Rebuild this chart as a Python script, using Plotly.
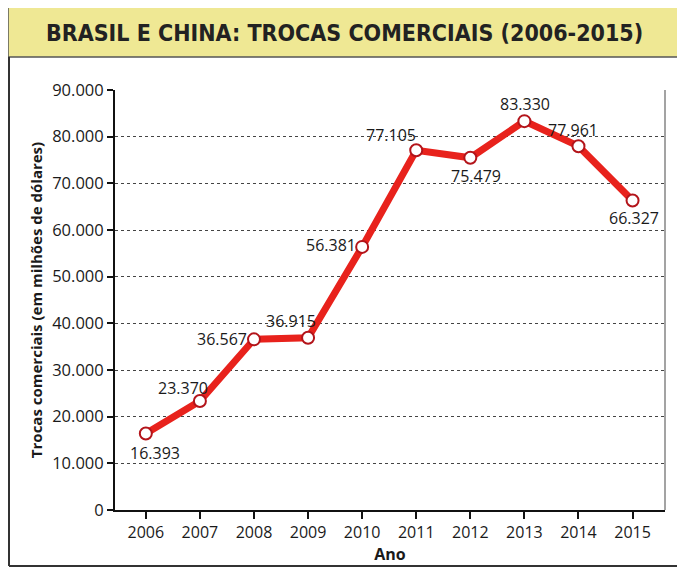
import plotly.graph_objects as go

anos = [2006, 2007, 2008, 2009, 2010, 2011, 2012, 2013, 2014, 2015]
trocas = [16393, 23370, 36567, 36915, 56381, 77105, 75479, 83330, 77961, 66327]
rotulos = ["16.393", "23.370", "36.567", "36.915", "56.381", "77.105", "75.479", "83.330", "77.961", "66.327"]
y_ticks = [0, 10000, 20000, 30000, 40000, 50000, 60000, 70000, 80000, 90000]

# label offsets (pixels) relative to each point
offsets = [(9, -19), (-17, 13), (-32, 0), (-17, 17), (-31, 2), (-25, 15), (6, -18), (1, 17), (-5, 16), (1, -18)]

fig = go.Figure()
fig.add_trace(go.Scatter(
    x=anos, y=trocas, mode="lines+markers",
    line=dict(color="#e8221c", width=7),
    marker=dict(size=12, color="white", line=dict(color="#b3141a", width=2)),
    hoverinfo="skip", showlegend=False,
))

for a, v, t, (dx, dy) in zip(anos, trocas, rotulos, offsets):
    fig.add_annotation(x=a, y=v, text=t, showarrow=False, xshift=dx, yshift=dy,
                       font=dict(family="Open Sans", size=16, color="#1a1a1a"))

def px(x):
    return (x - 115) / 550

def py(y):
    return (510 - y) / 420

# title band
fig.add_shape(type="rect", xref="paper", yref="paper", x0=px(8), x1=px(690), y0=py(57), y1=py(5),
              fillcolor="#efe894", line=dict(color="#555", width=1.5), layer="below")
# outer frame
fig.add_shape(type="line", xref="paper", yref="paper", x0=px(9), x1=px(9), y0=py(57), y1=py(566),
              line=dict(color="#333", width=2))
fig.add_shape(type="line", xref="paper", yref="paper", x0=px(9), x1=px(690), y0=py(566), y1=py(566),
              line=dict(color="#333", width=2))
# right border of plot area
fig.add_shape(type="line", xref="paper", yref="paper", x0=1, x1=1, y0=0, y1=1,
              line=dict(color="#666", width=1.2))

fig.add_annotation(xref="paper", yref="paper", x=px(344), y=py(33), xanchor="center", yanchor="middle",
                   text="<b>BRASIL E CHINA: TROCAS COMERCIAIS (2006-2015)</b>",
                   showarrow=False, font=dict(family="DejaVu Sans Condensed", size=23, color="#222"))

fig.update_layout(
    width=677, height=569,
    margin=dict(l=107, r=20, t=82, b=67),
    paper_bgcolor="white", plot_bgcolor="white",
    separators=",.",
    font=dict(family="Open Sans", color="#1a1a1a"),
)
fig.update_xaxes(
    range=[2005.43, 2015.6], tickvals=anos, ticktext=[str(a) for a in anos],
    showline=True, linecolor="#111", linewidth=2, ticks="outside", ticklen=7, tickwidth=2, tickcolor="#111",
    showgrid=False, zeroline=False, tickfont=dict(size=16),
    title=dict(text="<b>Ano</b>", font=dict(size=16), standoff=0),
)
fig.update_yaxes(
    range=[0, 90000], tickvals=y_ticks, tickformat=",d",
    showline=True, linecolor="#111", linewidth=2, ticks="outside", ticklen=6, tickwidth=1.5, tickcolor="#111",
    showgrid=True, gridcolor="#444", griddash="dot", gridwidth=1, zeroline=False,
    tickfont=dict(size=16.5),
    title=dict(text="<b>Trocas comerciais (em milhões de dólares)</b>", font=dict(size=15), standoff=6),
)

fig.write_html("out.html")
